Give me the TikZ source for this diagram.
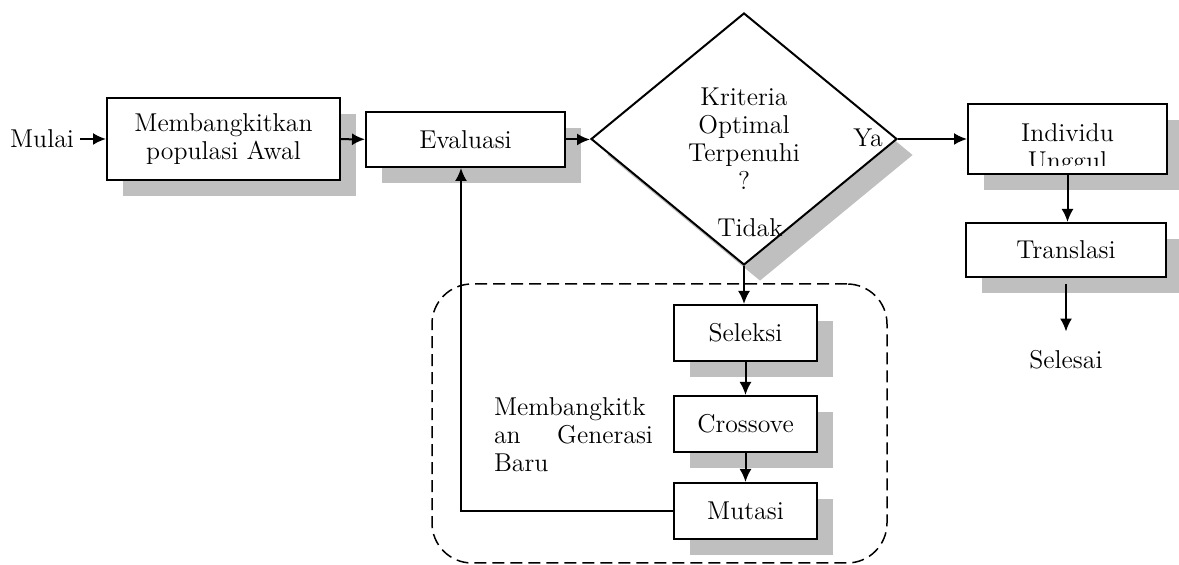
\documentclass[tikz,border=0pt]{standalone}
\usetikzlibrary{
arrows.meta,
shapes.geometric,
shadows
}
\definecolor{shadowgray}{RGB}{191,191,191}
\tikzset{
block_shadow/.style={drop shadow={shadow xshift=8pt, shadow yshift=-8pt, fill=shadowgray, opacity=1}}
}
\begin{document}
\begin{tikzpicture}
[x=0.5pt, y=-0.5pt,
every node/.style={font=\fontsize{12.9}{14}\selectfont},
block_normal/.style ={rectangle, draw, fill=white, line width=1pt, align=center, inner sep=0pt, block_shadow},
decision/.style={diamond, draw, fill=white, line width=1pt, align=center, inner sep=0pt, minimum width=153pt, minimum height=126pt, block_shadow},
block_group/.style ={rectangle, draw, dash pattern=on 6pt off 3pt, line width=0.75pt, rounded corners=20pt, minimum width=227.5pt, minimum height=139.5pt},
line_inner/.style ={draw, line width=1pt, -{Latex[length=6.5pt, width=6pt]}}]

\useasboundingbox (0,0) rectangle (1179,565);

%Gruppe Generasi Baru
\node [block_group] (generasi) at (659.5,423.5) {};
\node [text width=79.5pt, align=left, inner sep=0pt] (generasi_label) at (573.5,434.5) {Membangkitk\\an\hfill Generasi\\Baru};

%Bloecke Hauptpfad
\node [inner sep=3pt] (mulai) at (42,139) {Mulai};
\node [block_normal, minimum width=116.5pt, minimum height=41pt] (popawal) at (223.5,139) {Membangkitkan\\populasi Awal};
\node [block_normal, minimum width=99.5pt, minimum height=27.5pt] (evaluasi) at (465.5,139.5) {Evaluasi};
\node [decision] (kriteria) at (744,139) {Kriteria\\Optimal\\Terpenuhi\\?};
\node (ya) at (868,138) {Ya};
\node (tidak) at (750,228) {Tidak};

%Bloecke rechts
\node [block_normal, minimum width=99.5pt, minimum height=35pt] (individu) at (1067.5,139.5) {};
\begin{scope}
\clip (individu.north west) rectangle ([yshift=5pt]individu.south east);
\node [align=center] (individu_text) at ([yshift=-5pt]individu.center) {Individu\\Unggul};
\end{scope}
\node [block_normal, minimum width=100pt, minimum height=27pt] (translasi) at (1066,250) {Translasi};
\node (selesai) at (1066,360) {Selesai};

%Bloecke Generasi
\node [block_normal, minimum width=71.5pt, minimum height=28pt] (seleksi) at (745.5,333) {Seleksi};
\node [block_normal, minimum width=71.5pt, minimum height=28pt] (crossover) at (745.5,424) {Crossove};
\node [block_normal, minimum width=71.5pt, minimum height=28pt] (mutasi) at (745.5,511) {Mutasi};

%Pfeile Hauptpfad
\draw [line_inner] (mulai) -- (popawal);
\draw [line_inner] (popawal) -- (evaluasi);
\draw [line_inner] (evaluasi.east) -- (evaluasi.east -| kriteria.west);
\draw [line_inner] (kriteria.east) -- (kriteria.east -| individu.west);
\draw [line_inner] (individu.south) -- (individu.south |- translasi.north);
\draw [line_inner, shorten <=3pt, shorten >=6pt] (translasi) -- (selesai);

%Pfeile Generasi
\draw [line_inner] (kriteria.south) -- (kriteria.south |- seleksi.north);
\draw [line_inner] (seleksi) -- (crossover);
\draw [line_inner] (crossover) -- (mutasi);
\draw [line_inner] (mutasi.west) -| ([xshift=-2.25pt]evaluasi.south);

\end{tikzpicture}
\end{document}
